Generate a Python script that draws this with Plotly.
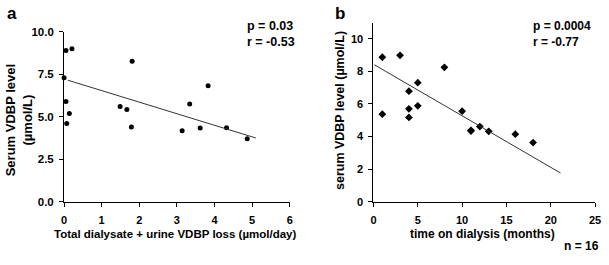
import plotly.graph_objects as go

# Panel a data
loss_a = [0.0, 0.05, 0.21, 0.05, 0.14, 0.07, 1.49, 1.67, 1.81, 1.79, 3.14, 3.34, 3.62, 3.83, 4.32, 4.87]
vdbp_a = [7.30, 8.90, 9.00, 5.90, 5.19, 4.60, 5.60, 5.43, 8.27, 4.40, 4.17, 5.75, 4.34, 6.82, 4.36, 3.71]
fit_a_x = [0.1, 5.1]
fit_a_y = [7.15, 3.75]

# Panel b data
months_b = [1, 1, 3, 4, 4, 4, 5, 5, 8, 10, 11, 11, 12, 13, 16, 18]
vdbp_b = [8.86, 5.37, 8.98, 6.78, 5.70, 5.17, 7.30, 5.88, 8.24, 5.55, 4.33, 4.38, 4.61, 4.32, 4.14, 3.63]
fit_b_x = [0.1, 21.1]
fit_b_y = [8.40, 1.76]

a_xticks = [0, 1, 2, 3, 4, 5, 6]
a_yticks = [0, 2.5, 5, 7.5, 10]
b_xticks = [0, 5, 10, 15, 20, 25]
b_yticks = [0, 2, 4, 6, 8, 10]

W, H = 609, 265
SANS = "Liberation Sans, Arial, sans-serif"

fig = go.Figure()
fig.add_trace(go.Scatter(x=loss_a, y=vdbp_a, mode="markers", cliponaxis=False,
                         marker=dict(symbol="circle", size=5, color="black"),
                         xaxis="x", yaxis="y", showlegend=False))
fig.add_trace(go.Scatter(x=fit_a_x, y=fit_a_y, mode="lines", cliponaxis=False,
                         line=dict(color="#333333", width=1),
                         xaxis="x", yaxis="y", showlegend=False))
fig.add_trace(go.Scatter(x=months_b, y=vdbp_b, mode="markers", cliponaxis=False,
                         marker=dict(symbol="diamond", size=6, color="black"),
                         xaxis="x2", yaxis="y2", showlegend=False))
fig.add_trace(go.Scatter(x=fit_b_x, y=fit_b_y, mode="lines", cliponaxis=False,
                         line=dict(color="#333333", width=1),
                         xaxis="x2", yaxis="y2", showlegend=False))

def px(x):
    return x / W

def py(y):
    return 1 - y / H

axis_common = dict(showline=True, linecolor="black", linewidth=1, ticks="outside",
                   ticklen=4, tickcolor="black", showgrid=False, zeroline=False, mirror=False)

fig.update_layout(
    width=W, height=H, margin=dict(l=0, r=0, t=0, b=0),
    paper_bgcolor="white", plot_bgcolor="white",
    xaxis=dict(domain=[px(62), px(291)], range=[0, 6], tickvals=a_xticks, anchor="y",
               ticklabelstandoff=4,
               tickfont=dict(family=SANS, size=11, color="black", weight="bold"), **axis_common),
    yaxis=dict(domain=[py(205), py(27)], range=[0, 10], tickvals=a_yticks, tickformat=".1f", anchor="x",
               ticklabelstandoff=3,
               tickfont=dict(family=SANS, size=11.5, color="black", weight="bold"), **axis_common),
    xaxis2=dict(domain=[px(376), px(601)], range=[0, 25], tickvals=b_xticks, anchor="y2",
                ticklabelstandoff=4,
                tickfont=dict(family=SANS, size=11, color="black", weight="bold"), **axis_common),
    yaxis2=dict(domain=[py(205), py(18)], range=[0, 10.95], tickvals=b_yticks, anchor="x2",
                ticklabelstandoff=3,
                tickfont=dict(family=SANS, size=11, color="black", weight="bold"), **axis_common),
)

def ann(text, x, y, size, family=SANS, xanchor="center", yanchor="middle", angle=0, align="center"):
    fig.add_annotation(text=text, x=px(x), y=py(y), xref="paper", yref="paper",
                       xanchor=xanchor, yanchor=yanchor, showarrow=False, textangle=angle,
                       align=align, font=dict(family=family, size=size, color="black", weight="bold"))

ann("a", 9, 8, 17)
ann("b", 342, 8, 17)
ann("p = 0.03<br>r = -0.53", 246, 29, 12.5, xanchor="left", align="left")
ann("p = 0.0004<br>r = -0.77", 536, 29, 12, xanchor="left", align="left")
ann("Serum VDBP level<br>(µmol/L)", 16, 120, 13, angle=-90)
ann("Total dialysate + urine VDBP loss (µmol/day)", 175, 239, 11.5)
ann("serum VDBP level (µmol/L)", 342, 109, 12.5, angle=-90)
ann("time on dialysis (months)", 487, 239, 12)
ann("n = 16", 607, 251, 12, xanchor="right")

fig.write_html("out.html", config={"displayModeBar": False},
               post_script="document.body.style.margin='0';document.body.style.overflow='hidden';")
